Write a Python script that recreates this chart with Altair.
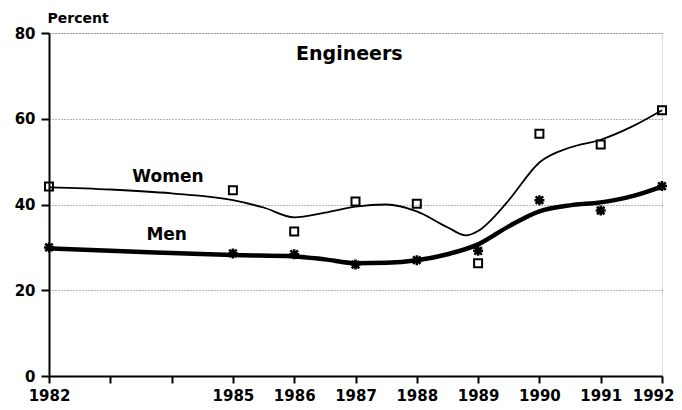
import altair as alt
import pandas as pd

# Observed values (markers)
years_pts = [1982, 1985, 1986, 1987, 1988, 1989, 1990, 1991, 1992]
women_pts = [44.2, 43.3, 33.7, 40.7, 40.2, 26.3, 56.5, 54.0, 62.0]
men_pts = [30.0, 28.6, 28.4, 26.0, 27.0, 29.2, 41.0, 38.6, 44.3]

# Smoothed trend curves
women_curve_years = [1982, 1983, 1984, 1985, 1985.5, 1986, 1986.5, 1987, 1987.5, 1988,
                     1988.5, 1988.8, 1989, 1989.3, 1989.5, 1990, 1990.5, 1991, 1991.5, 1992]
women_curve = [44.0, 43.5, 42.6, 41.0, 39.3, 37.0, 38.1, 39.5, 40.0, 38.4,
               34.7, 32.8, 33.8, 37.7, 41.0, 49.8, 53.3, 55.1, 58.1, 62.0]
men_curve_years = [1982, 1983, 1984, 1985, 1986, 1986.5, 1987, 1987.5, 1988, 1988.5,
                   1989, 1989.5, 1990, 1990.5, 1991, 1991.5, 1992]
men_curve = [29.8, 29.2, 28.7, 28.2, 27.9, 27.2, 26.3, 26.4, 27.0, 28.4,
             30.7, 34.9, 38.4, 39.8, 40.5, 41.9, 44.2]

tick_years = list(range(1982, 1993))

labels_text = ["Women", "Men"]
labels_x = [1983.94, 1983.92]
labels_y = [46.3, 33.0]

title_text = ["Engineers"]
title_x = [1986.9]
title_y = [75.2]

FONT = "DejaVu Sans"

pts = pd.DataFrame({"year": years_pts, "women": women_pts, "men": men_pts})
wc = pd.DataFrame({"year": women_curve_years, "value": women_curve})
mc = pd.DataFrame({"year": men_curve_years, "value": men_curve})
lab = pd.DataFrame({"text": labels_text, "x": labels_x, "y": labels_y})
ttl = pd.DataFrame({"text": title_text, "x": title_x, "y": title_y})

xscale = alt.Scale(domain=[1982, 1992], nice=False, zero=False)
yscale = alt.Scale(domain=[0, 80], nice=False)

xaxis = alt.Axis(
    values=tick_years, format="d", title=None, grid=False,
    labelExpr="(datum.value == 1983 || datum.value == 1984) ? '' : datum.label",
    labelAlign=alt.ExprRef(expr="datum.value == 1992 ? 'right' : 'center'"),
    labelOffset=alt.ExprRef(expr="datum.value == 1992 ? 12 : 0"),
    labelFont=FONT, labelFontWeight="bold", labelFontSize=15, labelColor="black",
    tickSize=7, tickColor="black", tickWidth=2, domainColor="black", domainWidth=2,
    labelPadding=5, labelFlush=False,
)
yaxis = alt.Axis(
    values=[0, 20, 40, 60, 80], title="Percent", titleAngle=0, titleX=-2, titleY=-11,
    titleAlign="left", titleBaseline="alphabetic",
    titleFont=FONT, titleFontWeight="bold", titleFontSize=14,
    titleColor="black",
    labelFont=FONT, labelFontWeight="bold", labelFontSize=15, labelColor="black",
    tickSize=8, tickColor="black", tickWidth=2, domainColor="black", domainWidth=2,
    labelPadding=6, grid=True, gridDash=[1, 2], gridColor="#666", gridWidth=1,
)

base_x = alt.X("year:Q", scale=xscale, axis=xaxis)

women_line = alt.Chart(wc).mark_line(color="black", strokeWidth=1.8, interpolate="monotone").encode(
    x=base_x, y=alt.Y("value:Q", scale=yscale, axis=yaxis)
)
men_line = alt.Chart(mc).mark_line(color="black", strokeWidth=4.5, interpolate="monotone").encode(
    x=alt.X("year:Q", scale=xscale), y=alt.Y("value:Q", scale=yscale)
)
women_pts_mark = alt.Chart(pts).mark_point(
    shape="square", size=64, filled=False, color="black", strokeWidth=2, opacity=1
).encode(x=alt.X("year:Q", scale=xscale), y=alt.Y("women:Q", scale=yscale))

asterisk = "M-1,0L1,0M0,-1L0,1M-0.75,-0.75L0.75,0.75M-0.75,0.75L0.75,-0.75"
men_pts_mark = alt.Chart(pts).mark_point(
    shape=asterisk, size=100, filled=False, color="black", strokeWidth=2.5, opacity=1
).encode(x=alt.X("year:Q", scale=xscale), y=alt.Y("men:Q", scale=yscale))

label_marks = alt.Chart(lab).mark_text(
    font=FONT, fontWeight="bold", fontSize=17, color="black"
).encode(x=alt.X("x:Q", scale=xscale), y=alt.Y("y:Q", scale=yscale), text="text:N")

title_mark = alt.Chart(ttl).mark_text(
    font=FONT, fontWeight="bold", fontSize=19, color="black"
).encode(x=alt.X("x:Q", scale=xscale), y=alt.Y("y:Q", scale=yscale), text="text:N")

chart = alt.layer(
    women_line, men_line, women_pts_mark, men_pts_mark, label_marks, title_mark
).properties(
    width=613, height=343,
    autosize=alt.AutoSizeParams(type="none"),
    padding={"left": 41, "top": 25, "right": 12, "bottom": 30},
).configure_view(
    stroke="black", strokeWidth=2
).configure(background="white")

chart.save("out.html", embed_options={"renderer": "svg", "actions": False})
